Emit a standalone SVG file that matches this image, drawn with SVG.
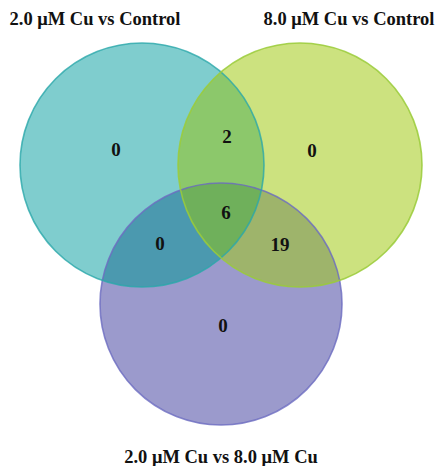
<svg xmlns="http://www.w3.org/2000/svg" width="440" height="466" viewBox="0 0 440 466">
<style>
.lbl{font-family:"Liberation Serif","Times New Roman",serif;font-weight:bold;fill:#111;text-anchor:middle}
.title{font-size:18.5px}
.num{font-size:19px}
.edge{fill:none;stroke-width:1.6}
</style>
<defs>
<clipPath id="cA"><circle cx="142" cy="165" r="122"/></clipPath>
<clipPath id="cB"><circle cx="300" cy="165" r="122"/></clipPath>
<clipPath id="cC"><circle cx="221" cy="304" r="121"/></clipPath>
</defs>
<rect width="440" height="466" fill="#ffffff"/>
<g id="set-a">
<circle cx="142" cy="165" r="122" fill="#7fcdce"/>
</g>
<g id="set-b">
<circle cx="300" cy="165" r="122" fill="#cce27f"/>
</g>
<g id="set-c">
<circle cx="221" cy="304" r="121" fill="#9b9acc"/>
</g>
<g id="overlaps">
<circle cx="300" cy="165" r="122" fill="#8cc86b" clip-path="url(#cA)"/>
<circle cx="221" cy="304" r="121" fill="#4b99af" clip-path="url(#cA)"/>
<circle cx="221" cy="304" r="121" fill="#9eb46b" clip-path="url(#cB)"/>
<g clip-path="url(#cA)"><circle cx="221" cy="304" r="121" fill="#6fb05b" clip-path="url(#cB)"/></g>
</g>
<g id="outlines">
<circle class="edge" cx="221" cy="304" r="121" stroke="#6b6bc0" stroke-opacity="0.8"/>
<circle class="edge" cx="142" cy="165" r="122" stroke="#2aa8aa" stroke-opacity="0.8"/>
<circle class="edge" cx="300" cy="165" r="122" stroke="#9acb3a" stroke-opacity="0.85"/>
</g>
<g id="connectors"></g>
<g id="titles">
<text class="lbl title" x="95" y="25">2.0 μM Cu vs Control</text>
<text class="lbl title" x="349" y="25">8.0 μM Cu vs Control</text>
<text class="lbl title" x="221" y="463">2.0 μM Cu vs 8.0 μM Cu</text>
</g>
<g id="counts">
<text class="lbl num" x="116" y="156">0</text>
<text class="lbl num" x="227" y="143">2</text>
<text class="lbl num" x="312" y="157">0</text>
<text class="lbl num" x="226" y="219">6</text>
<text class="lbl num" x="160" y="250">0</text>
<text class="lbl num" x="280" y="251">19</text>
<text class="lbl num" x="223" y="332">0</text>
</g>
</svg>
